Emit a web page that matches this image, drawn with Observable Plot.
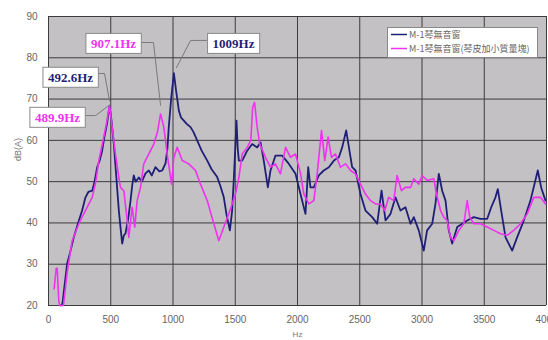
<!DOCTYPE html>
<html>
<head>
<meta charset="utf-8">
<script src="https://cdn.jsdelivr.net/npm/d3@7"></script>
<script src="https://cdn.jsdelivr.net/npm/@observablehq/plot@0.6"></script>
<style>
  html, body { margin: 0; padding: 0; background: #fff; overflow: hidden; }
</style>
</head>
<body>
<div id="chart"></div>
<script>
// ---- data ----
const seriesNames = ["M-1琴無音窗", "M-1琴無音窗(琴皮加小質量塊)"];
const seriesColors = ["#1f1f78", "#f032f0"];
const xTicks = [0, 500, 1000, 1500, 2000, 2500, 3000, 3500, 4000];
const yTicks = [20, 30, 40, 50, 60, 70, 80, 90];

const navyHz = [100,112,150,175,203,244,270,297,320,351,370,391,410,431,450,470,490,505,525,540,551,565,578,592,605,618,640,659,672,685,700,726,750,779,806,830,859,890,913,940,955,966,985,1007,1025,1047,1065,1087,1110,1141,1165,1194,1230,1275,1310,1355,1380,1408,1430,1457,1475,1489,1500,1510,1520,1529,1556,1596,1636,1676,1703,1729,1762,1783,1823,1877,1931,1984,2024,2064,2086,2104,2131,2171,2211,2252,2292,2332,2359,2391,2413,2439,2466,2506,2546,2600,2640,2675,2707,2747,2787,2827,2867,2908,2934,2974,3014,3041,3082,3108,3135,3162,3189,3215,3242,3283,3323,3363,3416,3470,3524,3556,3590,3609,3636,3671,3724,3764,3818,3871,3930,3957,3992];
const navyDb = [20,20.5,30.2,33,36.5,40.6,43,46.2,47.5,47.8,50,53.5,55,57.5,61,64,68.4,65,59.1,53,48.6,43,39,35,37,37.4,41,45.4,49,51.5,50,51,50,52,52.7,51.5,53.5,52.5,52.7,54.4,58,63.2,70,76.3,72,67.2,65.5,64.8,64,63.2,62,60,57.5,55.1,53,51.1,49,46.2,42,38.2,43,51,58,64.8,58,55.1,55.1,57.5,59.1,58.3,59.5,55.1,48.6,52.7,56.3,56.3,54.3,51.9,47,42.2,53.5,48.6,48.6,51.5,52.7,53.5,55.1,55.9,58.3,62.4,58.3,53.5,52.7,47,43,41.4,39.8,47.8,40.6,42.2,46.2,43,43.8,39.8,41.4,38.2,33.3,38.2,39.8,44.6,51.9,47.8,45.4,38.2,35,39,39.8,40.6,41.4,41,41,43.8,46.2,48.2,43,36.5,33.3,36.5,40.6,45.4,52.7,48.6,45.4];

const pinkHz = [45,62,70,83,90,120,150,190,220,244,280,311,351,380,404,444,465,490,511,538,560,578,605,632,645,672,693,712,739,765,806,846,875,900,926,953,988,1007,1034,1074,1127,1181,1221,1275,1328,1368,1408,1448,1502,1529,1556,1596,1625,1640,1655,1676,1697,1743,1783,1823,1863,1904,1944,1984,2024,2051,2091,2131,2158,2193,2219,2246,2273,2305,2345,2386,2426,2466,2506,2546,2586,2627,2667,2701,2733,2773,2800,2835,2867,2908,2934,2974,3001,3041,3095,3116,3149,3175,3202,3229,3256,3296,3336,3363,3384,3416,3470,3524,3577,3631,3684,3737,3791,3845,3898,3952,3992];
const pinkDb = [24,29,29,21,20,20,28,35.7,38,39.8,42,43.8,46.2,50,55.1,60.8,64,68.4,63.2,56.7,52,48.6,47.8,40.6,36.5,43.8,39,45.4,48.6,54.3,56.7,59.1,62,66.4,63.2,56.7,49.4,55.9,58.3,55.1,54.3,52.7,49.4,45.4,39.8,35.7,39,42.2,47,51,56.7,58.3,60,68,69.2,63.2,59.1,55.9,53.5,54.3,51.9,58.3,55.9,56.7,52,47,44.6,45.4,51.9,62.4,55.1,60.8,55.9,56.7,53.5,54.3,52.7,51.9,49.4,47,45.4,44.6,44.6,43,46.2,45.4,51.5,47.8,48.6,48.6,50.7,49.4,51.5,50.3,50.7,47,43,41.4,40.6,36.5,35.7,38.2,39.8,45.4,41.4,39.8,39.8,39,38.2,37.4,37,38.2,39.8,42.2,46.2,46.2,44.6];

// annotation labels (peak call-outs), text anchor in data units
const annLabels = ["907.1Hz", "1009Hz", "492.6Hz", "489.9Hz"];
const annSeries = [1, 0, 0, 1];
const annHz = [522, 1486, 177, 72];
const annDb = [83.4, 83.4, 75.2, 65.5];
// leader lines: [hz, db] polyline per annotation
const leaderHz = [[739, 843, 900], [1269, 1141, 1028], [394, 450, 490], [273, 378, 474]];
const leaderDb = [[83.7, 83.7, 68.5], [84.2, 84.2, 77.6], [76.2, 76.2, 69.6], [66, 66, 68.2]];

// ---- build tables ----
const navy = navyHz.map((x, i) => ({x, y: navyDb[i]}));
const pink = pinkHz.map((x, i) => ({x, y: pinkDb[i]}));
const annots = annLabels.map((t, i) => ({t, x: annHz[i], y: annDb[i], c: seriesColors[annSeries[i]]}));
const leaders = leaderHz.flatMap((xs, k) => xs.map((x, j) => ({k, x, y: leaderDb[k][j]})));

const chart = Plot.plot({
  width: 548,
  height: 340,
  marginLeft: 48,
  marginRight: 2,
  marginTop: 16,
  marginBottom: 35,
  style: {fontFamily: "'Liberation Sans', Arial, sans-serif", fontSize: "10px", color: "#666", background: "#fff"},
  x: {domain: [0, 4000], ticks: xTicks, tickFormat: d => String(d), tickSize: 0, tickPadding: 10, label: null},
  y: {domain: [20, 90], ticks: yTicks, tickFormat: d => String(d), tickSize: 0, tickPadding: 11, label: null},
  marks: [
    Plot.frame({fill: "#c3c1c3", stroke: null}),
    Plot.gridX(xTicks, {stroke: "#3c3c3c", strokeOpacity: 1, strokeWidth: 1}),
    Plot.gridY(yTicks, {stroke: "#3c3c3c", strokeOpacity: 1, strokeWidth: 1}),
    Plot.ruleX([0], {stroke: "#3c3c3c", strokeWidth: 1}),
    Plot.line(navy, {x: "x", y: "y", stroke: seriesColors[0], strokeWidth: 1.8}),
    Plot.line(pink, {x: "x", y: "y", stroke: seriesColors[1], strokeWidth: 1.6}),
    Plot.line(leaders, {x: "x", y: "y", z: "k", stroke: "#7a7a7a", strokeWidth: 1}),
    Plot.text(annots, {x: "x", y: "y", text: "t", fill: "c", fontWeight: "bold", fontSize: 13,
      fontFamily: "'Liberation Serif', 'Times New Roman', serif"}),
    Plot.text(["Hz"], {frameAnchor: "bottom", dy: 31, fontSize: 8, fill: "#777"}),
    Plot.text(["dB(A)"], {frameAnchor: "left", dx: -30, rotate: -90, fontSize: 9, fill: "#777"})
  ]
});
document.getElementById("chart").appendChild(chart);

// boxes behind annotation texts (copy the text's own transform)
const svg = d3.select(chart);
svg.selectAll("text").filter(function() { return annLabels.includes(this.textContent); }).each(function() {
  const b = this.getBBox();
  const r = document.createElementNS("http://www.w3.org/2000/svg", "rect");
  this.parentNode.insertBefore(r, this);
  const tr = this.getAttribute("transform");
  const sel = d3.select(r)
    .attr("x", b.x - 5).attr("y", b.y - 2.5)
    .attr("width", b.width + 10).attr("height", b.height + 5)
    .attr("fill", "#fff").attr("stroke", "#8a8a8a").attr("stroke-width", 1);
  if (tr) sel.attr("transform", tr);
  else {
    const x = +this.getAttribute("x") || 0, y = +this.getAttribute("y") || 0;
    sel.attr("transform", `translate(${x},${y})`);
  }
});

// legend box inside the plot (top right)
const lg = svg.append("g").attr("font-family", "'Noto Sans CJK TC', 'Liberation Sans', sans-serif")
  .attr("font-size", 9).attr("text-anchor", "start");
lg.append("rect").attr("x", 387.5).attr("y", 27.5).attr("width", 150).attr("height", 30)
  .attr("fill", "#fff").attr("stroke", "#888");
seriesNames.forEach((name, i) => {
  const yy = 34.5 + i * 14;
  lg.append("line").attr("x1", 391).attr("x2", 407).attr("y1", yy).attr("y2", yy)
    .attr("stroke", seriesColors[i]).attr("stroke-width", 1.5);
  lg.append("text").attr("x", 409).attr("y", yy).attr("dy", "0.35em").attr("fill", "#666").text(name);
});
</script>
</body>
</html>
